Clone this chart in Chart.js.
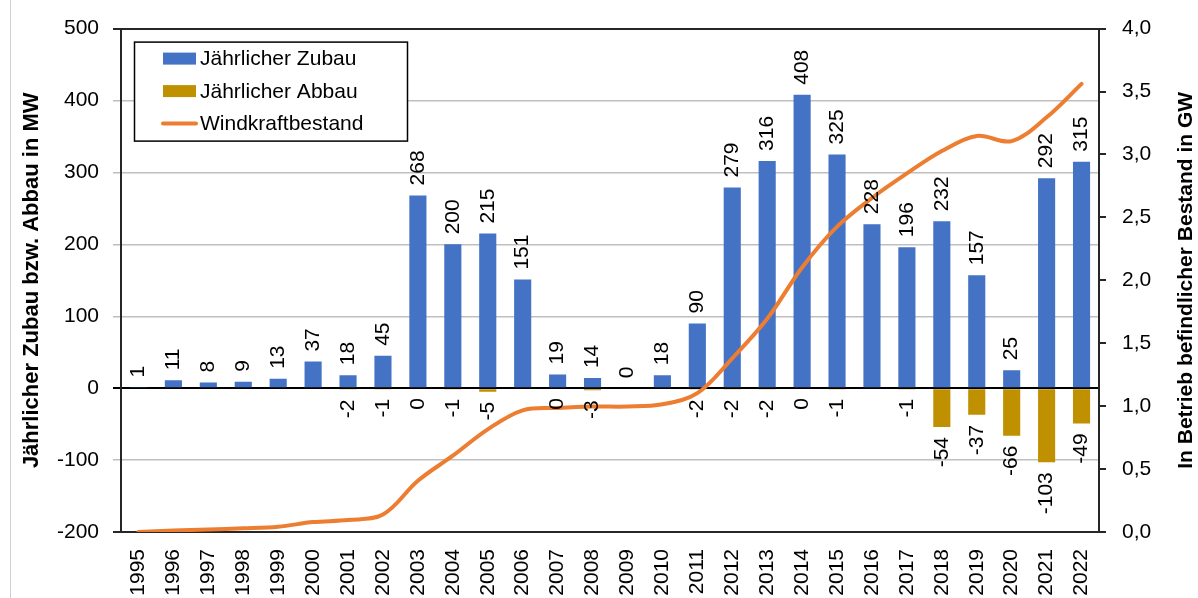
<!DOCTYPE html>
<html>
<head>
<meta charset="utf-8">
<script src="https://cdn.jsdelivr.net/npm/chart.js@4/dist/chart.umd.min.js"></script>
<style>
  html, body { margin: 0; padding: 0; background: #fff; }
  #wrap { position: relative; width: 1198px; height: 598px; }
  #edge { position: absolute; left: 10px; top: 0; width: 1px; height: 598px; background: #d0d0d0; }
</style>
</head>
<body>
<div id="wrap"><div id="edge"></div><canvas id="myChart" width="1198" height="598"></canvas></div>
<script>
// categories
const years = ['1995','1996','1997','1998','1999','2000','2001','2002','2003','2004',
  '2005','2006','2007','2008','2009','2010','2011','2012','2013','2014',
  '2015','2016','2017','2018','2019','2020','2021','2022'];

// yearly additions in MW
const zubau = [1, 11, 8, 9, 13, 37, 18, 45, 268, 200,
  215, 151, 19, 14, 0, 18, 90, 279, 316, 408,
  325, 228, 196, 232, 157, 25, 292, 315];

// yearly removals in MW (null = no label in the picture)
const abbau = [null, null, null, null, null, null, -2, -1, 0, -1,
  -5, null, 0, -3, null, null, -2, -2, -2, 0,
  -1, null, -1, -54, -37, -66, -103, -49];

// installed capacity in GW
const bestand = [0.001, 0.012, 0.020, 0.029, 0.042, 0.079, 0.095, 0.139, 0.407, 0.606,
  0.816, 0.967, 0.986, 0.997, 0.997, 1.015, 1.103, 1.380, 1.694, 2.102,
  2.426, 2.654, 2.849, 3.027, 3.147, 3.106, 3.295, 3.561];

const seriesNames = ['Jährlicher Zubau', 'Jährlicher Abbau', 'Windkraftbestand'];
const leftAxisTitle = 'Jährlicher Zubau bzw. Abbau in MW';
const rightAxisTitle = 'In Betrieb befindlicher Bestand in GW';
const leftMin = -200, leftMax = 500, leftStep = 100;
const rightMin = 0, rightMax = 4, rightStep = 0.5;

const FONT = "'Liberation Sans', Arial, sans-serif";
Chart.defaults.font.family = FONT;
Chart.defaults.color = '#000';

const blue = '#4472C4';
const gold = '#BF9000';
const orange = '#ED7D31';
const dark = '#262626';

// value labels on the bars, rotated
const barLabels = {
  id: 'barLabels',
  afterDatasetsDraw(chart) {
    const ctx = chart.ctx;
    const zeroY = chart.scales.y.getPixelForValue(0);
    ctx.save();
    ctx.font = '21px ' + FONT;
    ctx.fillStyle = '#000';
    ctx.textBaseline = 'middle';
    [0, 1].forEach(function (di) {
      const ds = chart.data.datasets[di];
      chart.getDatasetMeta(di).data.forEach(function (bar, j) {
        const v = ds.data[j];
        if (v == null) return;
        ctx.save();
        if (di === 0) {
          ctx.translate(bar.x, bar.y - 10);
          ctx.textAlign = 'left';
        } else {
          const y = v === 0 ? zeroY : bar.y;
          ctx.translate(bar.x, y + 10);
          ctx.textAlign = 'right';
        }
        ctx.rotate(-Math.PI / 2);
        ctx.fillText(String(v), 0, 0);
        ctx.restore();
      });
    });
    ctx.restore();
  }
};

// boxed legend inside the plot + right axis title reading upwards
const legendBox = {
  id: 'legendBox',
  afterDraw(chart) {
    const ctx = chart.ctx;
    const a = chart.chartArea;
    const left = a.left + 13, top = a.top + 13, w = 273, h = 99;
    ctx.save();
    ctx.fillStyle = '#fff';
    ctx.fillRect(left, top, w, h);
    ctx.strokeStyle = '#000';
    ctx.lineWidth = 1.5;
    ctx.strokeRect(left + 0.5, top + 0.5, w, h);
    ctx.font = '21px ' + FONT;
    ctx.textBaseline = 'middle';
    ctx.textAlign = 'left';
    chart.data.datasets.forEach(function (ds, i) {
      const cy = top + 17 + i * 32.5;
      if (ds.type === 'line') {
        ctx.strokeStyle = ds.borderColor;
        ctx.lineWidth = 4;
        ctx.lineCap = 'round';
        ctx.beginPath();
        ctx.moveTo(left + 29, cy);
        ctx.lineTo(left + 62, cy);
        ctx.stroke();
      } else {
        ctx.fillStyle = ds.backgroundColor;
        ctx.fillRect(left + 29, cy - 6, 33, 12);
      }
      ctx.fillStyle = '#000';
      ctx.fillText(ds.label, left + 66, cy + 1);
    });

    // right title
    const s = chart.scales.y1;
    ctx.font = 'bold 21px ' + FONT;
    ctx.textAlign = 'center';
    ctx.textBaseline = 'middle';
    ctx.translate(s.right - 12, (a.top + a.bottom) / 2);
    ctx.rotate(-Math.PI / 2);
    ctx.fillText(rightAxisTitle, 0, 0);
    ctx.restore();
  }
};

const ctx = document.getElementById('myChart');

new Chart(ctx, {
  type: 'bar',
  data: {
    labels: years,
    datasets: [
      {
        label: seriesNames[0],
        data: zubau,
        backgroundColor: blue,
        yAxisID: 'y',
        order: 1,
        barPercentage: 0.49,
        categoryPercentage: 1
      },
      {
        label: seriesNames[1],
        data: abbau,
        backgroundColor: gold,
        yAxisID: 'y',
        order: 1,
        barPercentage: 0.49,
        categoryPercentage: 1
      },
      {
        type: 'line',
        label: seriesNames[2],
        data: bestand,
        borderColor: orange,
        backgroundColor: orange,
        borderWidth: 4,
        borderCapStyle: 'round',
        pointRadius: 0,
        tension: 0.35,
        yAxisID: 'y1',
        order: 0
      }
    ]
  },
  options: {
    responsive: false,
    animation: false,
    layout: { padding: { top: 25, left: 0, right: 0, bottom: 0 } },
    plugins: {
      legend: { display: false },
      tooltip: { enabled: false }
    },
    scales: {
      x: {
        stacked: true,
        grid: { display: false, drawTicks: false },
        border: { display: false },
        ticks: {
          autoSkip: false,
          minRotation: 90,
          maxRotation: 90,
          padding: 17,
          font: { size: 21 }
        },
        afterFit: function (s) { s.height = 66; }
      },
      y: {
        stacked: true,
        position: 'left',
        min: leftMin,
        max: leftMax,
        ticks: { stepSize: leftStep, padding: 14, font: { size: 21 } },
        grid: {
          tickLength: 8,
          lineWidth: function (c) { return (c.tick && (c.tick.value === 0 || c.tick.value === leftMax || c.tick.value === leftMin)) ? 2 : 1.5; },
          color: function (c) {
            if (!c.tick) return '#BFBFBF';
            if (c.tick.value === 0) return '#000';
            if (c.tick.value === leftMax || c.tick.value === leftMin) return dark;
            return '#BFBFBF';
          }
        },
        border: { display: true, color: dark, width: 2 },
        title: {
          display: true,
          text: leftAxisTitle,
          font: { size: 22, weight: 'bold' },
          padding: { top: 19, bottom: 0 }
        },
        afterFit: function (s) { s.width = 121; }
      },
      y1: {
        position: 'right',
        min: rightMin,
        max: rightMax,
        ticks: {
          stepSize: rightStep,
          padding: 16,
          font: { size: 21 },
          callback: function (v) { return Number(v).toFixed(1).replace('.', ','); }
        },
        grid: { drawOnChartArea: false, drawTicks: true, tickLength: 7, color: dark, lineWidth: 2 },
        border: { display: true, color: dark, width: 2 },
        title: { display: false },
        afterFit: function (s) { s.width = 99; }
      }
    }
  },
  plugins: [barLabels, legendBox]
});
</script>
</body>
</html>
